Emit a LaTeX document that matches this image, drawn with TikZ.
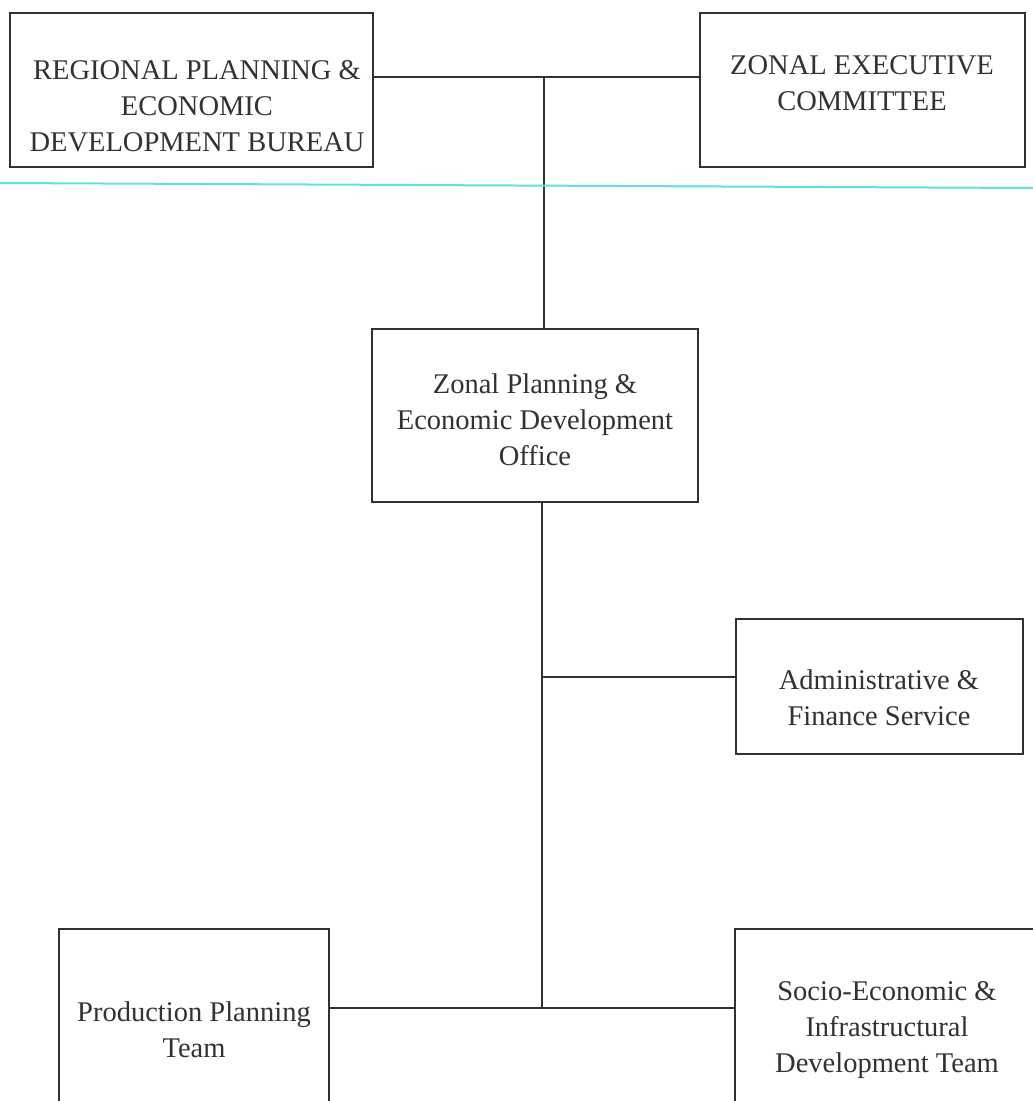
\documentclass[tikz,border=0pt]{standalone}
\usepackage{fontspec}
\setmainfont{Liberation Serif}
\usepackage{tikz}

\definecolor{ink}{RGB}{50,50,50}
\definecolor{scan}{RGB}{100,222,226}

\begin{document}
\begin{tikzpicture}[x=1pt, y=-1pt, line width=1.5pt, draw=ink,
  box/.style 2 args={draw=ink, minimum width=#1, minimum height=#2, inner sep=0pt},
  txt/.style={align=center, text=ink, inner sep=0pt, font=\fontsize{28.5}{36}\selectfont}]

  \useasboundingbox (0,0) rectangle (1033,1101);
  \clip (0,0) rectangle (1033,1101);
  \fill[white] (0,0) rectangle (1033,1101);

  % boxes
  \node[box={363pt}{154pt}] (bureau) at (191.5,90) {};
  \node[box={325pt}{154pt}] (zec) at (862.5,90) {};
  \node[box={326pt}{173pt}] (office) at (535,415.5) {};
  \node[box={287pt}{135pt}] (admin) at (879.5,686.5) {};
  \node[box={270pt}{211pt}] (prod) at (194,1034.5) {};
  \node[box={305pt}{211pt}] (socio) at (887.5,1034.5) {};

  % texts
  \node[txt] (bureau-t) at (197,106) {REGIONAL PLANNING \&\\ECONOMIC\\DEVELOPMENT BUREAU};
  \node[txt] (zec-t) at (862,83) {ZONAL EXECUTIVE\\COMMITTEE};
  \node[txt] (office-t) at (535,420) {Zonal Planning \&\\Economic Development\\Office};
  \node[txt] (admin-t) at (879,698) {Administrative \&\\Finance Service};
  \node[txt] (prod-t) at (194,1030) {Production Planning\\Team};
  \node[txt] (socio-t) at (887,1030) {Socio-Economic \&\\Infrastructural\\Development Team};

  % joints
  \coordinate (top) at (544,77);
  \coordinate (adj) at (542,677);
  \coordinate (bot) at (542,1008);

  \draw (bureau.east |- top) -- (zec.west |- top);
  \draw (top) -- (top |- office.north);
  \draw (office.south -| bot) -- (bot);
  \draw (adj) -- (adj -| admin.west);
  \draw (prod.east |- bot) -- (socio.west |- bot);

  % scanner streak
  \draw[scan, line width=2pt] (0,183) -- (1033,188);
\end{tikzpicture}
\end{document}
